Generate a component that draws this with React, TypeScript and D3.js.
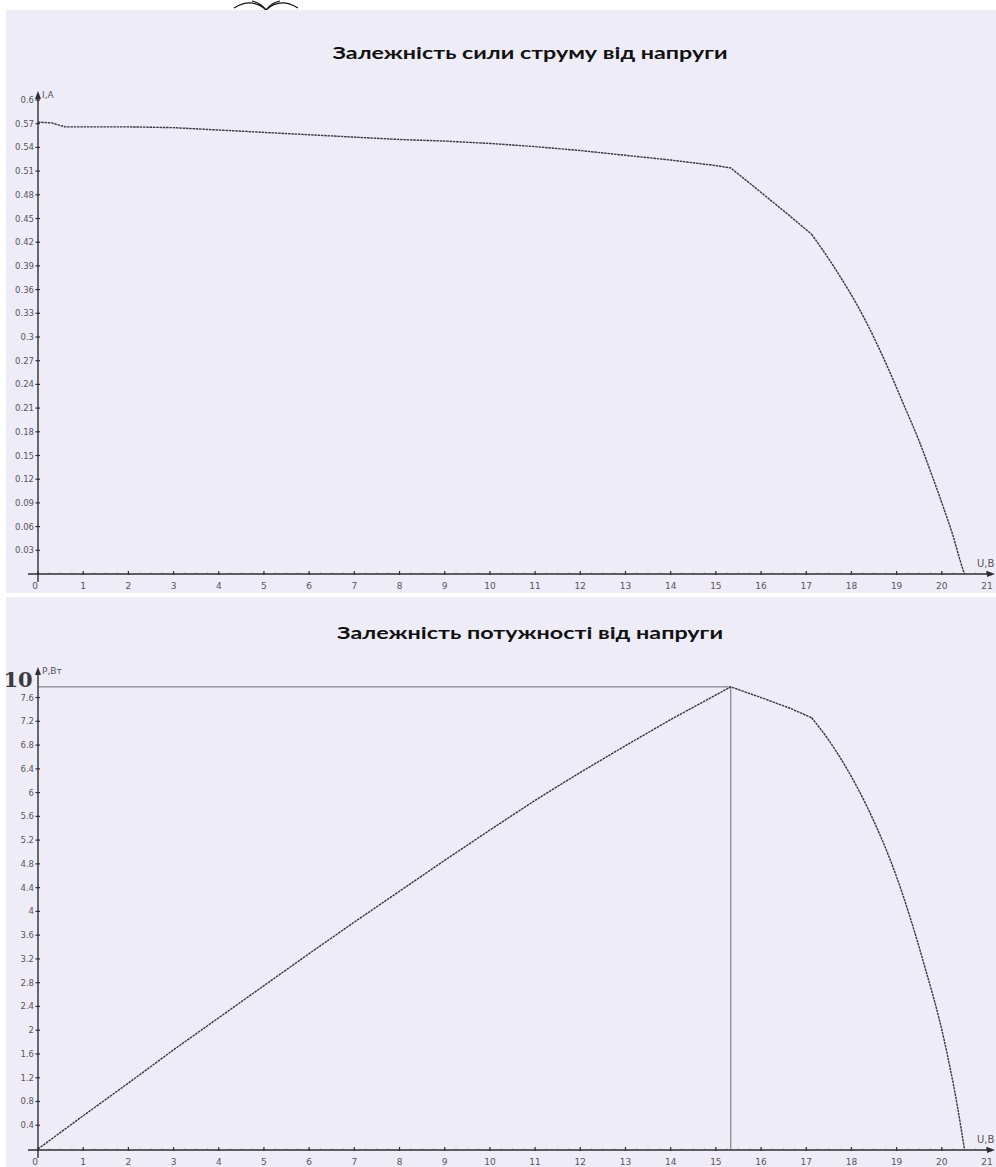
import React from "react";
import * as d3 from "d3";

const W = 996;
const H = 1167;

// ---- data ----
const titleTop = "Залежність сили струму від напруги";
const titleBottom = "Залежність потужності від напруги";

const xTickValues = d3.range(0, 22);
const xTickLabels = xTickValues.map(String);

const iTickValues = [0.03, 0.06, 0.09, 0.12, 0.15, 0.18, 0.21, 0.24, 0.27, 0.3, 0.33, 0.36, 0.39, 0.42, 0.45, 0.48, 0.51, 0.54, 0.57, 0.6];
const iTickLabels = ["0.03", "0.06", "0.09", "0.12", "0.15", "0.18", "0.21", "0.24", "0.27", "0.3", "0.33", "0.36", "0.39", "0.42", "0.45", "0.48", "0.51", "0.54", "0.57", "0.6"];

const pTickValues = [0.4, 0.8, 1.2, 1.6, 2, 2.4, 2.8, 3.2, 3.6, 4, 4.4, 4.8, 5.2, 5.6, 6, 6.4, 6.8, 7.2, 7.6];
const pTickLabels = ["0.4", "0.8", "1.2", "1.6", "2", "2.4", "2.8", "3.2", "3.6", "4", "4.4", "4.8", "5.2", "5.6", "6", "6.4", "6.8", "7.2", "7.6"];

// I(U): straight-ish part up to the knee at 17.12 V, then a smooth arc
const uForI = [0, 0.3, 0.6, 1, 2, 3, 4, 5, 6, 7, 8, 9, 10, 11, 12, 13, 14, 15, 15.33, 16, 16.6, 17.12, 17.6, 18.3, 18.8, 19.16, 19.5, 19.8, 20.05, 20.25, 20.4, 20.5];
const current = [0.572, 0.571, 0.566, 0.566, 0.566, 0.565, 0.562, 0.559, 0.556, 0.553, 0.55, 0.548, 0.545, 0.541, 0.536, 0.53, 0.524, 0.517, 0.514, 0.483, 0.455, 0.43, 0.39, 0.322, 0.262, 0.214, 0.168, 0.122, 0.082, 0.048, 0.018, 0];

const uForP = [0, 1, 2, 3, 4, 5, 6, 7, 8, 9, 10, 11, 12, 13, 14, 15.33, 16, 16.64, 17.12, 17.5, 17.9, 18.36, 19.0, 19.6, 20.05, 20.34, 20.5];
const power = [0, 0.56, 1.11, 1.67, 2.21, 2.75, 3.29, 3.82, 4.34, 4.86, 5.37, 5.87, 6.34, 6.79, 7.23, 7.78, 7.6, 7.42, 7.26, 6.88, 6.4, 5.74, 4.58, 3.13, 1.84, 0.74, 0];

const kneeU = 17.12;

const xAxisLabel = "U,B";
const iAxisLabel = "I,A";
const pAxisLabel = "P,Вт";
const pMarker = "10";

// ---- styles ----
const BG = "#eeecf6";
const AXIS = "#2e2e33";
const CURVE = "#36363c";
const TICKTXT = "#55555c";
const tickFont = "'DejaVu Sans', sans-serif";
const titleFont = "Lato, 'Open Sans', sans-serif";

const x = d3.scaleLinear().domain([0, 21]).range([38, 987]);
const yI = d3.scaleLinear().domain([0, 0.6]).range([574, 100]);
const yP = d3.scaleLinear().domain([0, 8]).range([1149, 1149 - 8 * 59.4]);

function Axes({ y, top, bottom, ticks, labels, yLabel }: any) {
  const x0 = x(0);
  const minor = d3.range(0, 21.01, 0.25);
  return (
    <g>
      <line x1={x0 - 10} x2={x(21) + 4} y1={bottom} y2={bottom} stroke={AXIS} strokeWidth={1.4} />
      <path d={`M${x(21) + 8},${bottom} l-8,-3 l0,6 z`} fill={AXIS} />
      {minor.map((u, i) => (
        <line key={"m" + i} x1={x(u)} x2={x(u)} y1={bottom - 1.5} y2={bottom} stroke={AXIS} strokeWidth={0.6} opacity={0.7} />
      ))}
      {xTickValues.map((u, i) => (
        <g key={"x" + i}>
          <line x1={x(u)} x2={x(u)} y1={bottom - 3} y2={bottom + 1} stroke={AXIS} strokeWidth={1.2} />
          <text x={x(u) + (i === 0 ? -3 : 0)} y={bottom + 15} fontSize={9} fill={TICKTXT} textAnchor="middle" fontFamily={tickFont}>
            {xTickLabels[i]}
          </text>
        </g>
      ))}
      <text x={977} y={bottom - 7} fontSize={10} fill={TICKTXT} fontFamily={tickFont}>{xAxisLabel}</text>
      <line x1={x0} x2={x0} y1={bottom + 8} y2={top + 6} stroke={AXIS} strokeWidth={1.4} />
      <path d={`M${x0},${top} l-3,8 l6,0 z`} fill={AXIS} />
      {ticks.map((v: number, i: number) => (
        <g key={"y" + i}>
          <line x1={x0 - 2.5} x2={x0 + 2} y1={y(v)} y2={y(v)} stroke={AXIS} strokeWidth={1.2} />
          <text x={x0 - 4} y={y(v) + 3} fontSize={8.5} fill={TICKTXT} textAnchor="end" fontFamily={tickFont}>
            {labels[i]}
          </text>
        </g>
      ))}
      <text x={x0 + 4} y={top + 7} fontSize={9} fill={TICKTXT} fontFamily={tickFont}>{yLabel}</text>
    </g>
  );
}

function curvePath(us: number[], vs: number[], y: any) {
  const pts = us.map((u, i) => [u, vs[i]] as [number, number]);
  const a = pts.filter((p) => p[0] <= kneeU);
  const b = pts.filter((p) => p[0] >= kneeU);
  const lin = d3.line<[number, number]>().x((p) => x(p[0])).y((p) => y(p[1]));
  const smooth = d3
    .line<[number, number]>()
    .x((p) => x(p[0]))
    .y((p) => y(p[1]))
    .curve(d3.curveMonotoneX);
  return (lin(a) || "") + (smooth(b) || "");
}

export default function App() {
  const peakIdx = d3.maxIndex(power);
  const peakU = uForP[peakIdx];
  const peakP = power[peakIdx];

  return (
    <svg width={W} height={H} style={{ position: "absolute", left: 0, top: 0, background: "#fff" }}>
      <g fill="none" stroke="#111" strokeWidth={1.2}>
        <path d="M234,8 Q252,-3 266,10 Q280,-3 298,8" />
        <path d="M252,1 Q261,3 266,10 Q271,3 280,1" />
      </g>
      <rect x={6} y={10} width={W - 6} height={583} fill={BG} />
      <rect x={6} y={597} width={W - 6} height={H - 597} fill={BG} />

      <text x={530} y={59} textAnchor="middle" fontSize={17} fontWeight="bold" fontFamily={titleFont} fill="#111" textLength={395} lengthAdjust="spacingAndGlyphs">
        {titleTop}
      </text>
      <Axes y={yI} top={91} bottom={574} ticks={iTickValues} labels={iTickLabels} yLabel={iAxisLabel} />
      <path d={curvePath(uForI, current, yI)} fill="none" stroke={CURVE} strokeWidth={1.4} strokeDasharray="2.5 0.8" />

      <text x={530} y={639} textAnchor="middle" fontSize={17} fontWeight="bold" fontFamily={titleFont} fill="#111" textLength={386} lengthAdjust="spacingAndGlyphs">
        {titleBottom}
      </text>
      <line x1={x(0)} x2={x(peakU)} y1={yP(peakP)} y2={yP(peakP)} stroke="#6d6d74" strokeWidth={1} />
      <line x1={x(peakU)} x2={x(peakU)} y1={yP(peakP)} y2={yP(0)} stroke="#6d6d74" strokeWidth={1} />
      <Axes y={yP} top={667} bottom={1150} ticks={pTickValues} labels={pTickLabels} yLabel={pAxisLabel} />
      <text x={18} y={687} textAnchor="middle" fontSize={21} fontWeight="bold" fontFamily="'DejaVu Serif', serif" fill="#3a3a40">
        {pMarker}
      </text>
      <path d={curvePath(uForP, power, yP)} fill="none" stroke={CURVE} strokeWidth={1.4} strokeDasharray="2.5 0.8" />
    </svg>
  );
}
